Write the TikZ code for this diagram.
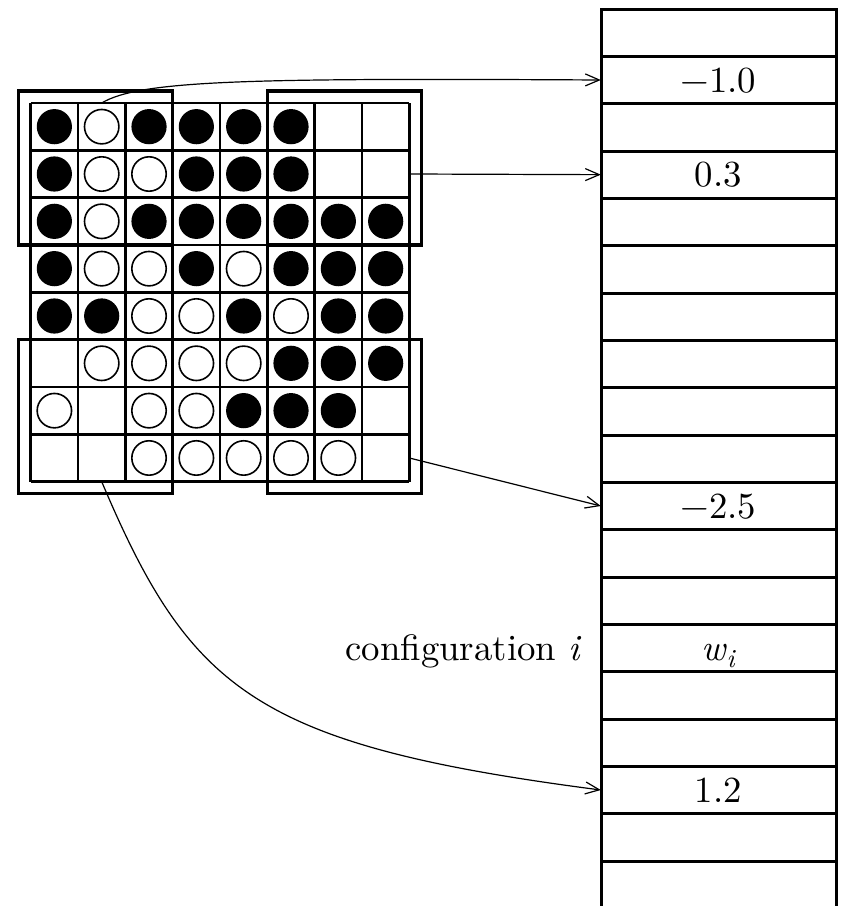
\documentclass[tikz,border=0pt]{standalone}
\usepackage{fontspec}
\setmainfont{lmroman10-regular.otf}[ItalicFont=lmroman10-italic.otf]
\usetikzlibrary{arrows.meta}
\newcommand{\SubI}{\raisebox{-0.2em}{\fontsize{26}{28}\selectfont\textit{i}}}
\begin{document}
\begin{tikzpicture}[x=1pt,y=-1pt,
  tabline/.style={line width=3pt},
  gridline/.style={line width=2.6pt},
  corner/.style={line width=3.2pt,line join=miter},
  blk/.style={fill=black},
  wht/.style={draw=black,line width=1.6pt,fill=white},
  val/.style={minimum width=235pt,minimum height=47.33pt,inner sep=0pt,
    text height=24pt,text depth=0pt,font=\fontsize{36.8}{40}\selectfont},
  link/.style={line width=1.2pt,-{Straight Barb[length=14pt,width=12pt,line width=1.2pt]}}]
\useasboundingbox (0,0) rectangle (841,906);

% ---- weight table ----
\def\RowH{47.333}
\foreach \k in {0,...,18}
  \draw[tabline] (601,9+\k*\RowH) -- (836,9+\k*\RowH);
\draw[tabline,line join=miter] (601,906) -- (601,9) -- (836,9) -- (836,906);

\node[val] (v1)  at (718.5,9+1.5*\RowH)  {−1.0};
\node[val] (v3)  at (718.5,9+3.5*\RowH)  {0.3};
\node[val] (v10) at (718.5,9+10.5*\RowH) {−2.5};
\node[val] (v13) at (718.5,9+13.5*\RowH) {\textit{w}\SubI};
\node[val] (v16) at (718.5,9+16.5*\RowH) {1.2};
\node[anchor=base east,inner sep=0pt,font=\fontsize{36.8}{40}\selectfont]
  (cfg) at ([xshift=-19pt]v13.base west) {configuration \textit{i}};

% ---- board ----
\def\BoardX{30.7}
\def\BoardY{103}
\def\Cell{47.33}
\foreach \i in {0,...,8} {
  \draw[gridline] (\BoardX+\i*\Cell,\BoardY) -- (\BoardX+\i*\Cell,\BoardY+8*\Cell);
  \draw[gridline] (\BoardX,\BoardY+\i*\Cell) -- (\BoardX+8*\Cell,\BoardY+\i*\Cell);
}

% corner regions, widened on their outer sides
\def\Mg{12}
\draw[corner] (\BoardX-\Mg,\BoardY-\Mg) rectangle (\BoardX+3*\Cell,\BoardY+3*\Cell);
\draw[corner] (\BoardX+5*\Cell,\BoardY-\Mg) rectangle (\BoardX+8*\Cell+\Mg,\BoardY+3*\Cell);
\draw[corner] (\BoardX-\Mg,\BoardY+5*\Cell) rectangle (\BoardX+3*\Cell,\BoardY+8*\Cell+\Mg);
\draw[corner] (\BoardX+5*\Cell,\BoardY+5*\Cell) rectangle (\BoardX+8*\Cell+\Mg,\BoardY+8*\Cell+\Mg);

% black stones (column/row)
\foreach \c/\r in {0/0,2/0,3/0,4/0,5/0,
                   0/1,3/1,4/1,5/1,
                   0/2,2/2,3/2,4/2,5/2,6/2,7/2,
                   0/3,3/3,5/3,6/3,7/3,
                   0/4,1/4,4/4,6/4,7/4,
                   5/5,6/5,7/5,
                   4/6,5/6,6/6}
  \fill[blk] (\BoardX+\c*\Cell+0.5*\Cell,\BoardY+\r*\Cell+0.5*\Cell) circle[radius=17.6];
% white stones
\foreach \c/\r in {1/0,
                   1/1,2/1,
                   1/2,
                   1/3,2/3,4/3,
                   2/4,3/4,5/4,
                   1/5,2/5,3/5,4/5,
                   0/6,2/6,3/6,
                   2/7,3/7,4/7,5/7,6/7}
  \draw[wht] (\BoardX+\c*\Cell+0.5*\Cell,\BoardY+\r*\Cell+0.5*\Cell) circle[radius=17.2];

% connector end points on the board
\coordinate (tlA) at (\BoardX+1.5*\Cell,\BoardY);
\coordinate (trA) at (\BoardX+8*\Cell,\BoardY+1.5*\Cell);
\coordinate (brA) at (\BoardX+8*\Cell,\BoardY+7.5*\Cell);
\coordinate (blA) at (\BoardX+1.5*\Cell,\BoardY+8*\Cell);

% ---- connectors ----
\draw[link] (tlA) .. controls (140,80) and (250,78) .. (v1.west);
\draw[link] (trA) -- (v3.west);
\draw[link] (brA) -- (v10.west);
\draw[link] (blA) .. controls (190,690) and (255,745) .. (v16.west);
\end{tikzpicture}
\end{document}
